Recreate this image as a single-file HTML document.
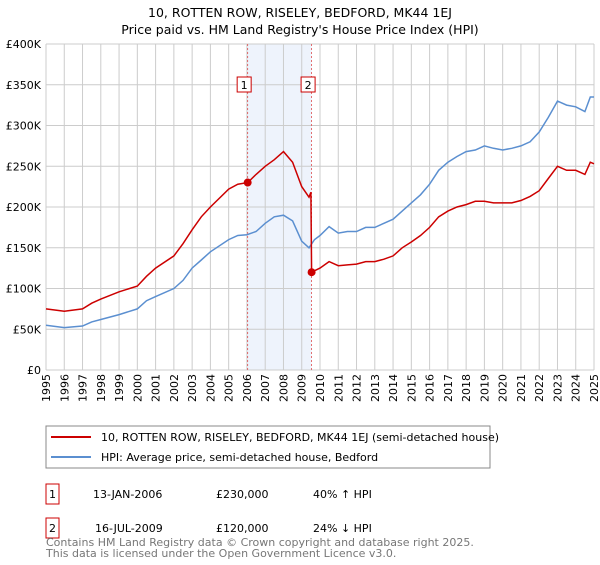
<!DOCTYPE html>
<html><head><meta charset="utf-8"><style>
body{margin:0;background:#fff;font-family:"Liberation Sans","DejaVu Sans",sans-serif;}
svg text{font-family:"DejaVu Sans","Liberation Sans",sans-serif;}
</style></head><body>
<svg id="c" width="600" height="560" xmlns="http://www.w3.org/2000/svg">
<text x="300" y="17" text-anchor="middle" font-size="12.5">10, ROTTEN ROW, RISELEY, BEDFORD, MK44 1EJ</text>
<text x="300" y="34" text-anchor="middle" font-size="12.5">Price paid vs. HM Land Registry's House Price Index (HPI)</text>
<g id="grid"></g><g id="marks"></g><g id="axes"></g>
<rect x="46" y="426" width="444" height="42" fill="#fff" stroke="#888"/>
<line x1="51" y1="437" x2="91" y2="437" stroke="#cc0000" stroke-width="2"/>
<text x="101" y="441" font-size="11">10, ROTTEN ROW, RISELEY, BEDFORD, MK44 1EJ (semi-detached house)</text>
<line x1="51" y1="457" x2="91" y2="457" stroke="#5b8fd0" stroke-width="2"/>
<text x="101" y="461" font-size="11">HPI: Average price, semi-detached house, Bedford</text>
<g font-size="11">
<rect x="46" y="484" width="13" height="20" fill="#fff" stroke="#cc0000"/><text x="52.5" y="498" text-anchor="middle">1</text>
<text x="93" y="498">13-JAN-2006</text><text x="216" y="498">£230,000</text><text x="313" y="498">40% ↑ HPI</text></g>
<g font-size="11">
<rect x="46" y="518" width="13" height="20" fill="#fff" stroke="#cc0000"/><text x="52.5" y="532" text-anchor="middle">2</text>
<text x="95" y="532">16-JUL-2009</text><text x="216" y="532">£120,000</text><text x="313" y="532">24% ↓ HPI</text></g>
<text x="46" y="546" font-size="11" fill="#777">Contains HM Land Registry data © Crown copyright and database right 2025.</text>
<text x="46" y="557" font-size="11" fill="#777">This data is licensed under the Open Government Licence v3.0.</text>
</svg>
<script>
const hpiYears=[1995,1996,1997,1997.5,1998,1999,2000,2000.5,2001,2002,2002.5,2003,2003.5,2004,2005,2005.5,2006,2006.5,2007,2007.5,2008,2008.5,2009,2009.4,2009.7,2010,2010.5,2011,2011.5,2012,2012.5,2013,2013.5,2014,2014.5,2015,2015.5,2016,2016.5,2017,2017.5,2018,2018.5,2019,2019.5,2020,2020.5,2021,2021.5,2022,2022.5,2023,2023.5,2024,2024.5,2024.8,2025];
const hpiValues=[55,52,54,59,62,68,75,85,90,100,110,125,135,145,160,165,166,170,180,188,190,183,158,150,160,165,176,168,170,170,175,175,180,185,195,205,215,228,245,255,262,268,270,275,272,270,272,275,280,292,310,330,325,323,317,335,335];
const priceYears=[1995,1996,1997,1997.5,1998,1999,2000,2000.5,2001,2002,2002.5,2003,2003.5,2004,2005,2005.5,2006.04,2006.5,2007,2007.5,2008,2008.5,2009,2009.4,2009.5,2009.54,2010,2010.5,2011,2011.5,2012,2012.5,2013,2013.5,2014,2014.5,2015,2015.5,2016,2016.5,2017,2017.5,2018,2018.5,2019,2019.5,2020,2020.5,2021,2021.5,2022,2022.5,2023,2023.5,2024,2024.5,2024.8,2025];
const priceValues=[75,72,75,82,87,96,103,115,125,140,155,172,188,200,222,228,230,240,250,258,268,255,225,212,218,120,125,133,128,129,130,133,133,136,140,150,157,165,175,188,195,200,203,207,207,205,205,205,208,213,220,235,250,245,245,240,255,253];
const saleYears=[2006.04,2009.54];
const saleValues=[230,120];
const saleLabels=["1","2"];
const yTicks=[0,50,100,150,200,250,300,350,400];
const yTickLabels=["£0","£50K","£100K","£150K","£200K","£250K","£300K","£350K","£400K"];
const xTicks=[1995,1996,1997,1998,1999,2000,2001,2002,2003,2004,2005,2006,2007,2008,2009,2010,2011,2012,2013,2014,2015,2016,2017,2018,2019,2020,2021,2022,2023,2024,2025];

const NS="http://www.w3.org/2000/svg";
const X=y=>46+(y-1995)*(548/30);
const Y=v=>370-v*(326/400);
function mk(p,t,a){const e=document.createElementNS(NS,t);for(const k in a)e.setAttribute(k,a[k]);p.appendChild(e);return e;}
const grid=document.getElementById('grid'),marks=document.getElementById('marks'),axes=document.getElementById('axes');
const shade=mk(grid,'rect',{x:X(saleYears[0]),y:Y(400),width:X(saleYears[1])-X(saleYears[0]),height:Y(0)-Y(400),fill:'#eef3fc'});


xTicks.forEach(t=>{
  const l=mk(grid,'line',{x1:X(t),x2:X(t),y1:Y(400),y2:Y(0),stroke:'#ccc','stroke-width':1});
  
  
  const tx=mk(axes,'text',{x:0,y:0,'font-size':11,'text-anchor':'end',transform:`translate(${X(t)+4},${Y(0)+4}) rotate(-90)`});
  tx.textContent=t;
  
  
});
yTicks.forEach((t,i)=>{
  const l=mk(grid,'line',{x1:X(1995),x2:X(2025),y1:Y(t),y2:Y(t),stroke:'#ccc','stroke-width':1});
  
  
  const tx=mk(axes,'text',{x:41,y:Y(t)+4,'font-size':11,'text-anchor':'end'});
  tx.textContent=yTickLabels[i];
  
  
});
saleYears.forEach((s,i)=>{
  const l=mk(marks,'line',{x1:X(s),x2:X(s),y1:Y(400),y2:Y(0),stroke:'#e05050','stroke-width':0.8,'stroke-dasharray':'2,2'});
  
  
});
function path(xs,vs,col,name){
  const d=xs.map((x,i)=>(i?'L':'M')+X(x).toFixed(1)+','+Y(vs[i]).toFixed(1)).join('');
  const p=mk(marks,'path',{d:d,fill:'none',stroke:col,'stroke-width':1.5});
  
  
}
path(hpiYears,hpiValues,'#5b8fd0','hpi-line');
path(priceYears,priceValues,'#cc0000','price-line');
saleYears.forEach((s,i)=>{
  const c=mk(marks,'circle',{cx:X(s),cy:Y(saleValues[i]),r:4,fill:'#cc0000'});
  
  
  const bx=X(s)-3.5;
  const r=mk(marks,'rect',{x:bx-7,y:77,width:14,height:15,fill:'#fff',stroke:'#cc0000'});
  
  
  const t=mk(marks,'text',{x:bx,y:89,'font-size':11,'text-anchor':'middle'});
  t.textContent=saleLabels[i];
  
  
});
</script>
</body></html>
